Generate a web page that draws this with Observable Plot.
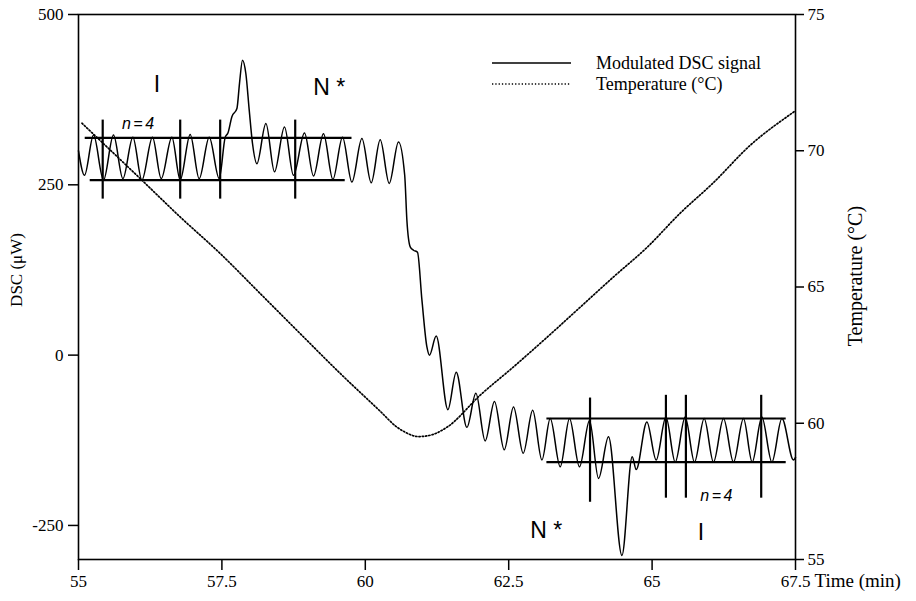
<!DOCTYPE html>
<html>
<head>
<meta charset="utf-8">
<script src="https://cdn.jsdelivr.net/npm/d3@7"></script>
<script src="https://cdn.jsdelivr.net/npm/@observablehq/plot@0.6"></script>
<style>
  html, body { margin: 0; padding: 0; background: #fff; }
  #wrap { position: relative; width: 916px; height: 601px; }
  #legend { position: absolute; left: 0; top: 0; pointer-events: none; }
  g[font-style="italic"] text { letter-spacing: 2.5px; }
</style>
</head>
<body>
<div id="wrap"></div>
<script>
// ---- data ----
// Modulated DSC signal: time (min) and heat flow (µW)
const dscTime = [55.00, 55.105, 55.262, 55.436, 55.610, 55.774, 55.948, 56.105, 56.290, 56.442,
  56.628, 56.773, 56.947, 57.104, 57.279, 57.453, 57.558, 57.605, 57.674, 57.762,
  57.807, 57.859, 57.918, 57.976, 58.033, 58.110, 58.267, 58.417, 58.591, 58.748,
  58.940, 59.097, 59.271, 59.435, 59.603, 59.766, 59.941, 60.103, 60.260, 60.417,
  60.579, 60.687, 60.725, 60.783, 60.840, 60.910, 60.987, 61.074, 61.119, 61.236,
  61.440, 61.585, 61.771, 61.928, 62.090, 62.252, 62.422, 62.584, 62.753, 62.918,
  63.079, 63.224, 63.398, 63.560, 63.734, 63.909, 64.066, 64.240, 64.474, 64.653,
  64.723, 64.909, 65.071, 65.241, 65.403, 65.577, 65.739, 65.908, 66.070, 66.245,
  66.419, 66.593, 66.745, 66.914, 67.088, 67.263, 67.465, 67.50];
const dscValue = [300, 264, 323, 257, 323, 259, 320, 257, 320, 259,
  320, 257, 324, 259, 320, 259, 320, 326, 350, 362,
  399, 433, 413, 360, 311, 281, 340, 269, 335, 264,
  326, 263, 325, 258, 320, 254, 318, 253, 316, 252,
  313, 264, 198, 159, 154, 151, 81, 12, 0, 28,
  -80, -25, -106, -56, -126, -68, -139, -76, -144, -81,
  -154, -93, -164, -93, -164, -96, -181, -120, -294, -149,
  -168, -98, -154, -91, -157, -91, -157, -93, -157, -93,
  -157, -93, -157, -91, -157, -93, -154, -150];

// Temperature: time (min) and °C
const tempTime = [55.06, 56.105, 56.773, 57.470, 58.168, 58.865, 59.562, 60.260, 60.551, 60.696,
  60.927, 61.166, 61.428, 62.003, 62.579, 63.171, 63.747, 64.322, 64.915, 65.490,
  66.065, 66.71, 67.46, 67.50];
const tempValue = [71.01, 68.92, 67.57, 66.23, 64.76, 63.29, 61.83, 60.44, 59.86, 59.67,
  59.51, 59.58, 59.86, 61.03, 62.06, 63.16, 64.26, 65.36, 66.46, 67.71,
  68.82, 70.20, 71.41, 71.47];

// Amplitude guide lines (horizontal) and cycle markers (vertical), in data units
const guideStart = [55.117, 55.204, 63.166, 63.166];
const guideEnd   = [59.768, 59.650, 67.338, 67.338];
const guideLevel = [319, 257, -93, -157];
const markTime = [55.422, 56.773, 57.470, 58.778, 63.918, 65.241, 65.589, 66.902];
const markLow  = [229, 229, 229, 229, -216, -210, -210, -210];
const markHigh = [345, 345, 345, 345, -63, -59, -59, -59];

// Annotations
const annText = ["I", "N *", "n=4", "N *", "I", "n=4"];
const annTime = [56.367, 59.371, 56.059, 63.154, 65.851, 66.143];
const annDsc  = [397, 392, 340, -257, -261, -206];

// Axis ticks
const timeTicks = [55, 57.5, 60, 62.5, 65, 67.5];
const dscTicks = [-250, 0, 250, 500];
const tempTicks = [55, 60, 65, 70, 75];

// ---- build ----
const dscDomain = [-300, 500];
const tempDomain = [55, 75];
const tempToDsc = d3.scaleLinear().domain(tempDomain).range(dscDomain);

const dsc = dscTime.map((t, i) => ({t, v: dscValue[i]}));
const temp = tempTime.map((t, i) => ({t, T: tempValue[i]}));
const guides = guideLevel.map((v, i) => ({x1: guideStart[i], x2: guideEnd[i], v}));
const marks = markTime.map((t, i) => ({t, y1: markLow[i], y2: markHigh[i]}));
const anns = annText.map((s, i) => ({s, t: annTime[i], v: annDsc[i]}));
const bigAnns = anns.filter(d => d.s !== "n=4");
const smallAnns = anns.filter(d => d.s === "n=4");

const serif = "'Liberation Serif', 'Times New Roman', serif";
const dotted = "1.3,2";

const chart = Plot.plot({
  width: 916,
  height: 601,
  marginLeft: 78,
  marginRight: 121,
  marginTop: 14,
  marginBottom: 42,
  x: {domain: [55, 67.5]},
  y: {domain: dscDomain},
  style: {fontFamily: serif, fontSize: "17px", color: "#000", background: "#fff", overflow: "visible"},
  marks: [
    Plot.frame({stroke: "#000", strokeWidth: 1.6}),
    Plot.axisX({ticks: timeTicks, tickFormat: d => String(d), tickSize: 11, tickPadding: 4,
      label: null, strokeWidth: 1.5, fontSize: 17}),
    Plot.axisY({anchor: "left", ticks: dscTicks, tickFormat: d => String(d), tickSize: 10,
      tickPadding: 5, label: null, strokeWidth: 1.5, fontSize: 17}),
    Plot.axisY({anchor: "right", ticks: tempTicks.map(tempToDsc),
      tickFormat: d => String(Math.round(tempToDsc.invert(d))), tickSize: 8, tickPadding: 4,
      label: null, strokeWidth: 1.5, fontSize: 17}),
    Plot.line(temp, {x: "t", y: d => tempToDsc(d.T), stroke: "#000", strokeWidth: 1.7,
      strokeDasharray: dotted, curve: "monotone-x"}),
    Plot.line(dsc, {x: "t", y: "v", stroke: "#000", strokeWidth: 1.5, curve: "monotone-x"}),
    Plot.ruleY(guides, {x1: "x1", x2: "x2", y: "v", stroke: "#000", strokeWidth: 2.2}),
    Plot.ruleX(marks, {x: "t", y1: "y1", y2: "y2", stroke: "#000", strokeWidth: 2.2}),
    Plot.text(bigAnns, {x: "t", y: "v", text: "s", fontFamily: "'Liberation Sans', Arial, sans-serif",
      fontSize: 23, fill: "#000"}),
    Plot.text(smallAnns, {x: "t", y: "v", text: "s", fontFamily: "'Liberation Sans', Arial, sans-serif",
      fontSize: 16, fontStyle: "italic", fill: "#000"}),
    Plot.text(["DSC (\u03bcW)"], {x: 55, y: 125, dx: -62, rotate: -90, fontSize: 17, fill: "#000"}),
    Plot.text(["Temperature (\u00b0C)"], {x: 67.5, y: 116, dx: 60, rotate: -90, fontSize: 20, fill: "#000"}),
    Plot.text(["Time (min)"], {x: 67.5, y: -300, dx: 19, dy: 21, textAnchor: "start", fontSize: 19, fill: "#000"})
  ]
});

const wrap = document.getElementById("wrap");
wrap.appendChild(chart);

// Legend (inside the plot area, top right)
const ns = "http://www.w3.org/2000/svg";
const leg = document.createElementNS(ns, "svg");
leg.setAttribute("id", "legend");
leg.setAttribute("width", 916);
leg.setAttribute("height", 601);
const legendItems = [
  {label: "Modulated DSC signal", dash: null},
  {label: "Temperature (\u00b0C)", dash: dotted}
];
legendItems.forEach((item, i) => {
  const y = 63 + i * 21;
  const ln = document.createElementNS(ns, "line");
  ln.setAttribute("x1", 492); ln.setAttribute("x2", 571);
  ln.setAttribute("y1", y); ln.setAttribute("y2", y);
  ln.setAttribute("stroke", "#000");
  ln.setAttribute("stroke-width", item.dash ? 1.7 : 1.5);
  if (item.dash) ln.setAttribute("stroke-dasharray", item.dash);
  leg.appendChild(ln);
  const tx = document.createElementNS(ns, "text");
  tx.setAttribute("x", 596); tx.setAttribute("y", y);
  tx.setAttribute("dy", "0.33em");
  tx.setAttribute("font-family", serif);
  tx.setAttribute("font-size", 18);
  tx.textContent = item.label;
  leg.appendChild(tx);
});
wrap.appendChild(leg);
</script>
</body>
</html>
